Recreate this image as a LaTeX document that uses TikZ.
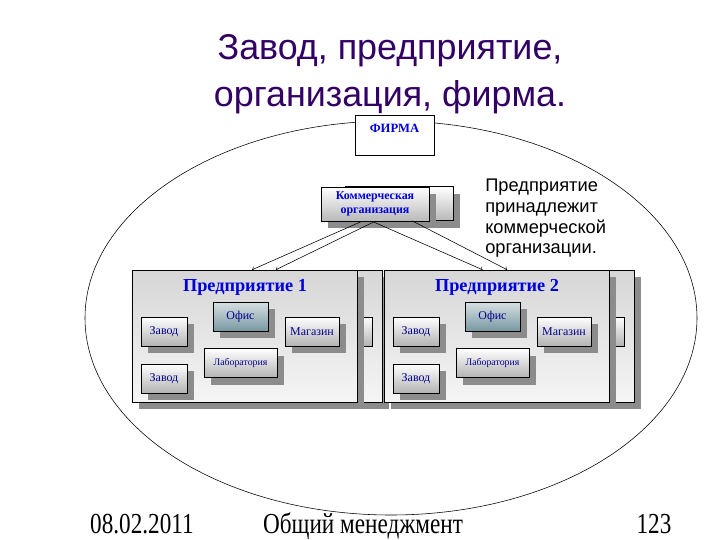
\documentclass[tikz,border=0pt]{standalone}
\usepackage{fontspec}
\usepackage{graphicx}
\setmainfont{Liberation Serif}
\newfontfamily\arialf{Liberation Sans}
\usetikzlibrary{shadows}
\definecolor{zagolovok}{RGB}{51,0,102}
\definecolor{sinij}{RGB}{0,0,220}
\definecolor{temnosinij}{RGB}{0,0,140}
\definecolor{ofis}{RGB}{120,152,162}
\begin{document}
\begin{tikzpicture}[x=0.25mm, y=-0.25mm,
  ten/.style={drop shadow={shadow xshift=1.75mm, shadow yshift=-1.75mm, fill=gray!90, opacity=1}},
  predpr/.style={draw=black, ten, top color=gray!32, bottom color=gray!8, minimum width=56.25mm, minimum height=33mm},
  blokbez/.style={draw=black, top color=white, bottom color=gray!60, minimum height=7.25mm, inner sep=0pt, font=\fontsize{8.5}{9}\selectfont, text=temnosinij},
  blok/.style={blokbez, ten},
  kommbox/.style={draw=black, ten, top color=white, bottom color=gray!55, minimum width=27mm, minimum height=8.5mm, inner sep=0pt, align=center, font=\bfseries\fontsize{8.5}{10}\selectfont, text=sinij},
  podval/.style={font=\fontsize{16.5}{18}\selectfont, anchor=base}
]
\fill[white] (0,0) rectangle (720,540);
\useasboundingbox (0,0) rectangle (720,540);
\draw (391,318) ellipse [x radius=76.5mm, y radius=49.25mm];
\node (zag) [font=\arialf\fontsize{25.5}{33.5}\selectfont, text=zagolovok, align=center] at (390,74) {Завод, предприятие,\\организация, фирма.};
\node (firma) [draw=black, fill=white, minimum width=19.75mm, inner xsep=0pt, inner ysep=2.2mm, text height=2.1mm, text depth=3.5mm, font=\bfseries\fontsize{9}{10}\selectfont, text=sinij] at (394.5,135) {ФИРМА};
\node (zkomm) [kommbox] at (399,203.5) {};
\node (komm) [kommbox] at (375,204) {Коммерческая\\организация};
\node (prim) [font=\arialf\fontsize{13}{14.7}\selectfont, align=left, anchor=north west, inner sep=0pt] at (485,179) {Предприятие\\принадлежит\\коммерческой\\организации.};
\foreach \n/\dx in {1/0,2/252}{
  \node (zpr\n) [predpr] at (269.5+\dx,336) {};
  \node (zmag\n) [blokbez, minimum width=13.5mm] at (345+\dx,331.5) {};
  \node (pr\n) [predpr] at (244.5+\dx,336) {};
  \node (nazv\n) [font=\bfseries\fontsize{13}{15}\selectfont, text=sinij] at (245+\dx,287) {Предприятие \n};
  \node (ofis\n) [blok, minimum width=13.75mm, top color=ofis!30, bottom color=ofis] at (240.5+\dx,316.5) {Офис};
  \node (zavod\n) [blok, minimum width=11.5mm] at (164+\dx,331.5) {Завод};
  \node (mag\n) [blok, minimum width=13.5mm] at (312+\dx,331.5) {Магазин};
  \node (lab\n) [blok, minimum width=18.25mm, font=\fontsize{7}{8}\selectfont] at (240.5+\dx,363) {Лаборатория};
  \node (zavodb\n) [blok, minimum width=11.5mm] at (164+\dx,378.5) {Завод};
}
\draw[->] ([xshift=-3.25mm]komm.south) -- ([xshift=1.9mm]pr1.north);
\draw[->] (komm.south) -- ([xshift=1.6mm]zpr1.north);
\draw[->] ([xshift=-0.75mm]komm.south) -- ([xshift=-3.5mm]pr2.north);
\draw[->] ([xshift=3.25mm]zkomm.south) -- ([xshift=-3.6mm]zpr2.north);
\node (data) [podval] at (142,533) {\scalebox{1}[1.25]{08.02.2011}};
\node (kurs) [podval] at (363,533) {\scalebox{1}[1.25]{Общий менеджмент}};
\node (nomer) [podval] at (654,533) {\scalebox{1}[1.25]{123}};
\end{tikzpicture}
\end{document}
